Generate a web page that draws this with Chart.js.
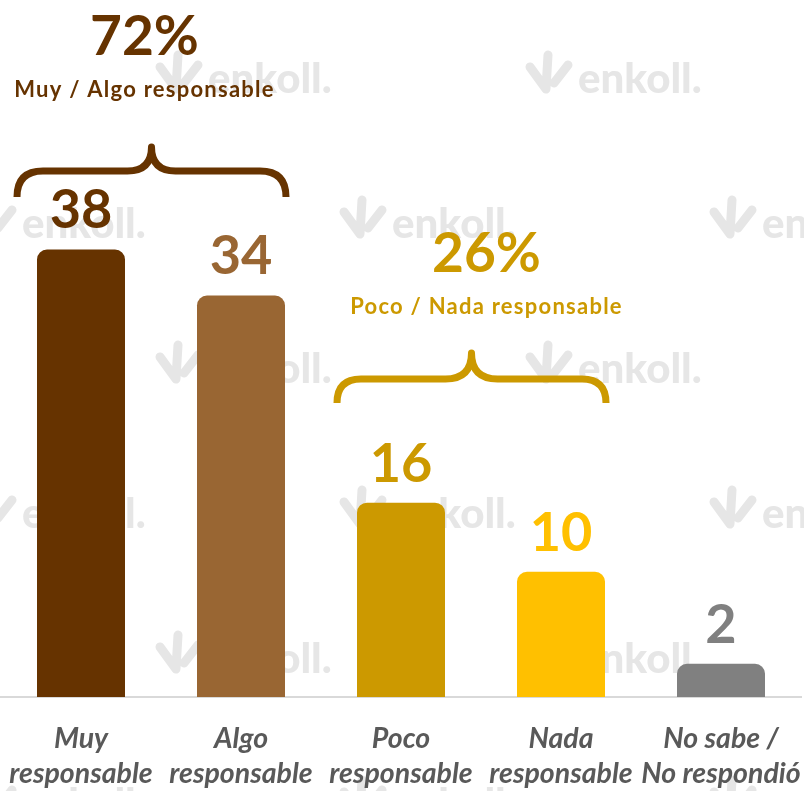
<!DOCTYPE html>
<html>
<head>
<meta charset="utf-8">
<script src="https://cdn.jsdelivr.net/npm/chart.js@4.4.1/dist/chart.umd.min.js"></script>
<style>
  html, body { margin: 0; padding: 0; background: #fff; }
  #wrap { position: relative; width: 804px; height: 791px; }
</style>
</head>
<body>
<div id="wrap"><canvas id="chart"></canvas></div>
<script>
const categories = [
  ['Muy', 'responsable'],
  ['Algo', 'responsable'],
  ['Poco', 'responsable'],
  ['Nada', 'responsable'],
  ['No sabe /', 'No respondió']
]
const values = [38, 34, 16, 10, 2]
const barColors = ['#663300', '#996633', '#CC9900', '#FFC000', '#808080']

// Grouped totals shown above the braces
const groupTotals = ['72%', '26%']
const groupLabels = ['Muy / Algo responsable', 'Poco / Nada responsable']
const groupBars = [[0, 1], [2, 3]]
const groupColors = ['#663300', '#CC9900']

// bars sit a little below the zero line in the original
const BASE = -0.87
const FONT = 'Lato, "Open Sans", sans-serif'

// where the brace + texts go for each group (px)
const groupLayout = [
  { textDx: -7, totalY: 55, labelY: 97, tipY: 147, midY: 171, endY: 197 },
  { textDx: 15, totalY: 272, labelY: 314, tipY: 353, midY: 379, endY: 403 }
]

function drawBrace(ctx, left, right, tipY, midY, endY) {
  const c = (left + right) / 2
  const r = endY - midY
  const t = midY - tipY
  ctx.beginPath()
  ctx.moveTo(left, endY)
  ctx.quadraticCurveTo(left, midY, left + r, midY)
  ctx.lineTo(c - t, midY)
  ctx.quadraticCurveTo(c, midY, c, tipY)
  ctx.quadraticCurveTo(c, midY, c + t, midY)
  ctx.lineTo(right - r, midY)
  ctx.quadraticCurveTo(right, midY, right, endY)
  ctx.stroke()
}

function drawWatermark(ctx, x, y) {
  ctx.lineWidth = 9
  ctx.lineCap = 'round'
  ctx.lineJoin = 'round'
  ctx.beginPath()
  ctx.moveTo(x + 4, y - 26)
  ctx.lineTo(x + 20, y - 4)
  ctx.lineTo(x + 22, y - 38)
  ctx.moveTo(x + 42, y - 28)
  ctx.lineTo(x + 28, y - 10)
  ctx.stroke()
  ctx.fillText('enkoll.', x + 52, y)
}

const annotations = {
  id: 'annotations',
  beforeDraw(chart) {
    const ctx = chart.ctx
    ctx.save()
    ctx.fillStyle = '#e6e6e6'
    ctx.strokeStyle = '#e6e6e6'
    ctx.font = '900 42px ' + FONT
    ctx.textAlign = 'left'
    ctx.textBaseline = 'alphabetic'
    for (let i = 0; i < 6; i++) {
      const y = 93 + 145 * i
      const start = i % 2 === 0 ? 156 : -30
      const n = i % 2 === 0 ? 2 : 3
      for (let k = 0; k < n; k++) drawWatermark(ctx, start + 370 * k, y)
    }
    ctx.restore()
  },
  afterDatasetsDraw(chart) {
    const ctx = chart.ctx
    const bars = chart.getDatasetMeta(0).data
    ctx.save()
    ctx.textAlign = 'center'
    ctx.textBaseline = 'alphabetic'

    // value labels
    ctx.font = 'bold 54px ' + FONT
    bars.forEach((bar, i) => {
      ctx.fillStyle = barColors[i]
      ctx.fillText(values[i], bar.x, bar.y - 21)
    })

    // braces and group totals
    groupBars.forEach(([a, b], g) => {
      const lay = groupLayout[g]
      const left = bars[a].x - 64
      const right = bars[b].x + 45
      const mid = (left + right) / 2
      ctx.strokeStyle = groupColors[g]
      ctx.fillStyle = groupColors[g]
      ctx.lineWidth = 7
      ctx.lineCap = 'butt'
      ctx.lineJoin = 'round'
      drawBrace(ctx, left, right, lay.tipY, lay.midY, lay.endY)

      ctx.font = 'bold 55px ' + FONT
      ctx.fillText(groupTotals[g], mid + lay.textDx, lay.totalY)
      ctx.font = 'bold 22px ' + FONT
      ctx.letterSpacing = '1.25px'
      ctx.fillText(groupLabels[g], mid + lay.textDx, lay.labelY)
      ctx.letterSpacing = '0px'
    })
    ctx.restore()
  }
}

new Chart(document.getElementById('chart').getContext('2d'), {
  type: 'bar',
  data: {
    labels: categories,
    datasets: [
      {
        data: values,
        backgroundColor: barColors,
        base: BASE,
        borderRadius: 10,
        borderSkipped: 'start',
        barPercentage: 0.55,
        categoryPercentage: 1
      }
    ]
  },
  options: {
    responsive: true,
    maintainAspectRatio: false,
    animation: false,
    layout: { padding: { left: 1, right: 3, top: 0, bottom: 0 } },
    plugins: {
      legend: { display: false },
      tooltip: { enabled: false }
    },
    scales: {
      x: {
        grid: { display: true, drawOnChartArea: false, drawTicks: true, tickLength: 24, color: 'transparent' },
        border: { display: true, color: '#D9D9D9', width: 2 },
        ticks: {
          color: '#595959',
          padding: 0,
          autoSkip: false,
          maxRotation: 0,
          font: { family: FONT, size: 28.5, weight: 'bold', style: 'italic', lineHeight: 1.23 }
        }
      },
      y: {
        display: false,
        min: BASE,
        max: 59.67
      }
    }
  },
  plugins: [annotations]
})
</script>
</body>
</html>
